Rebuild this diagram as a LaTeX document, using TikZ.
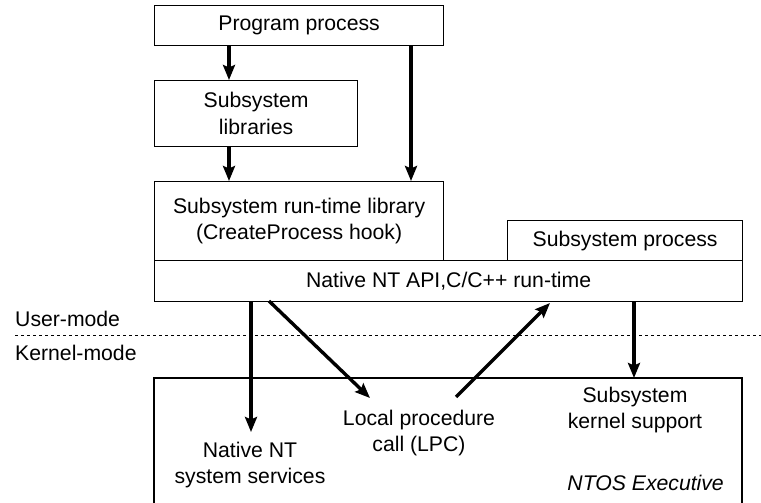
\documentclass[tikz,border=0pt]{standalone}
\usepackage{fontspec}
\setmainfont{Liberation Sans}
\usetikzlibrary{arrows.meta}
\begin{document}
\begin{tikzpicture}[x=1pt,y=-1pt,
  box/.style={draw,line width=1.2pt,inner sep=0pt,anchor=north west,align=center,
    font=\fontsize{21.2}{26.5}\selectfont},
  lbl/.style={inner sep=0pt,align=center,font=\fontsize{21.2}{26.5}\selectfont},
  arr/.style={line width=3.4pt,-{Stealth[length=15pt,width=12pt,inset=2.5pt]}},
  dotline/.style={line width=0.9pt,dash pattern=on 3pt off 3pt}]
\useasboundingbox (0,0) rectangle (761,503);
\fill[white] (0,0) rectangle (761,503);
% boxes
\node[box,minimum width=289pt,minimum height=40pt] (prog) at (154,5) {Program process};
\node[box,minimum width=203pt,minimum height=66pt] (libs) at (154,80) {Subsystem\\libraries};
\node[box,minimum width=289pt,minimum height=79pt] (rtl) at (154,181) {Subsystem run-time library\\(CreateProcess hook)};
\node[box,minimum width=235pt,minimum height=40pt] (sproc) at (507,220) {Subsystem process};
\node[box,minimum width=588pt,minimum height=41pt] (napi) at (154,260) {Native NT API,C/C++ run-time};
% kernel box (open at the bottom)
\coordinate (kbl) at (154,520);
\coordinate (ktl) at (154,378);
\coordinate (ktr) at (742,378);
\coordinate (kbr) at (742,520);
\draw[line width=1.2pt] (kbl) -- (ktl) -- (ktr) -- (kbr);
% mode line
\node[lbl,anchor=west] (um) at (15,319) {User-mode};
\node[lbl,anchor=west] (km) at (15,353) {Kernel-mode};
\coordinate (dl) at (15,335);
\coordinate (dr) at (761,335);
\draw[dotline] (dl) -- (dr);
% kernel texts
\node[lbl] (nss) at (250,465) {Native NT\\system services};
\node[lbl] (lpc) at (419,433) {Local procedure\\call (LPC)};
\node[lbl] (sks) at (635,410) {Subsystem\\kernel support};
\node[lbl,anchor=east,font=\fontsize{21.2}{26.5}\selectfont\itshape] (ntos) at (724,483) {NTOS Executive};
% arrow coordinates
\coordinate (xa) at (229,0);
\coordinate (xb) at (411,0);
\coordinate (xc) at (251,0);
\coordinate (xd) at (634,0);
\coordinate (nsstip) at (251,432);
\coordinate (dstart) at (269,301);
\coordinate (dtip) at (370,398);
\coordinate (ustart) at (456,397);
\coordinate (utip) at (550,303);
% arrows
\draw[arr] (prog.south -| xa) -- (libs.north -| xa);
\draw[arr] (libs.south -| xa) -- (rtl.north -| xa);
\draw[arr] (prog.south -| xb) -- (rtl.north -| xb);
\draw[arr] (napi.south -| xc) -- (nsstip);
\draw[arr] (dstart) -- (dtip);
\draw[arr] (ustart) -- (utip);
\draw[arr] (napi.south -| xd) -- (ktr -| xd);
\end{tikzpicture}
\end{document}
